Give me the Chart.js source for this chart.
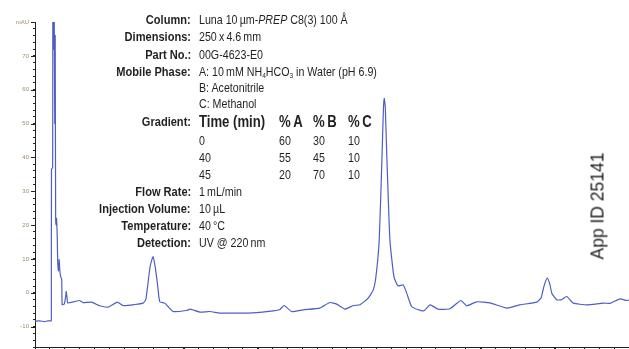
<!DOCTYPE html>
<html><head><meta charset="utf-8">
<script src="https://cdn.jsdelivr.net/npm/chart.js@4.4.1/dist/chart.umd.min.js"></script>
<style>
html,body{margin:0;padding:0;background:#fff;overflow:hidden;width:629px;height:349px}
#wrap{position:relative;width:629px;height:372px}
#c{position:absolute;left:0;top:0}
.t{position:absolute;font-family:"Liberation Sans",Arial,Helvetica,sans-serif;font-size:13px;color:#231f20;line-height:14px;white-space:nowrap;transform:scaleX(0.82);transform-origin:left center}
.lab{right:438px;font-weight:bold;font-size:13.5px;transform-origin:right center}
.val{left:199px}
.hd{font-weight:bold;font-size:16px;line-height:16px}
sub{font-size:8px;vertical-align:-2px;line-height:0}
#app{position:absolute;left:598px;top:206px;transform:translate(-50%,-50%) rotate(-90deg);font-family:"Liberation Sans",Arial,sans-serif;font-size:17.5px;color:#231f20;white-space:nowrap}
</style></head>
<body>
<div id="wrap">
<canvas id="c" width="629" height="372"></canvas>
<div class="t lab" style="top:13px">Column:</div><div class="t val" style="top:13px">Luna 10&#8201;µm-<i>PREP</i> C8(3) 100 Å</div>
<div class="t lab" style="top:30px">Dimensions:</div><div class="t val" style="top:30px">250&#8201;x&#8201;4.6&#8201;mm</div>
<div class="t lab" style="top:48px">Part No.:</div><div class="t val" style="top:48px">00G-4623-E0</div>
<div class="t lab" style="top:65px">Mobile Phase:</div><div class="t val" style="top:65px">A: 10&#8201;mM NH<sub>4</sub>HCO<sub>3</sub> in Water (pH 6.9)</div>
<div class="t val" style="top:81px">B: Acetonitrile</div>
<div class="t val" style="top:97px">C: Methanol</div>
<div class="t lab" style="top:115px">Gradient:</div>
<div class="t hd" style="top:114px;left:199px">Time (min)</div>
<div class="t hd" style="top:114px;left:279px">%&#8201;A</div>
<div class="t hd" style="top:114px;left:313px">%&#8201;B</div>
<div class="t hd" style="top:114px;left:348px">%&#8201;C</div>
<div id="grad"></div>
<div class="t lab" style="top:185px">Flow Rate:</div><div class="t val" style="top:185px">1&#8201;mL/min</div>
<div class="t lab" style="top:202px">Injection Volume:</div><div class="t val" style="top:202px">10&#8201;µL</div>
<div class="t lab" style="top:219px">Temperature:</div><div class="t val" style="top:219px">40&#8201;°C</div>
<div class="t lab" style="top:236px">Detection:</div><div class="t val" style="top:236px">UV @ 220&#8201;nm</div>
<div id="app">App ID 25141</div>
</div>
<script>
// Gradient table
const gradTime = ['0', '40', '45'];
const gradA = ['60', '55', '20'];
const gradB = ['30', '45', '70'];
const gradC = ['10', '10', '10'];

// Chromatogram trace: retention time (min) and absorbance (mAU)
const timeMin = [0, 0.32, 0.65, 0.86, 1.09, 1.10, 1.11, 1.19, 1.20, 1.24, 1.28, 1.33, 1.36, 1.39,
  1.42, 1.45, 1.50, 1.53, 1.58, 1.63, 1.68, 1.75, 1.80, 1.83, 1.97, 2.07, 2.10, 2.16, 2.20,
  2.68, 3.01, 3.23, 3.80, 4.36, 4.92, 5.55, 5.93, 6.72, 7.28, 7.46, 7.61, 7.76, 7.95, 8.10,
  8.27, 8.40, 8.74, 9.30, 10.20, 10.47, 11.10, 11.77, 12.45, 13.57, 14.69, 16.04, 16.49,
  16.78, 17.28, 18.06, 19.18, 19.86, 20.31, 20.87, 21.43, 21.88, 22.44, 22.78, 22.96, 23.18,
  23.36, 23.46, 23.52, 23.59, 23.70, 23.90, 24.17, 24.44, 24.80, 25.03, 25.36, 25.81, 26.19,
  26.60, 27.14, 27.94, 28.67, 29.07, 29.74, 30.64, 31.77, 32.66, 33.79, 34.08, 34.28, 34.50,
  34.68, 34.80, 35.13, 35.42, 35.81, 36.25, 37.16, 38.27, 38.72, 39.39, 39.84, 40.0];
const absorbance = [-8.4, -8.3, -8.5, -8.3, -8.3, -8.2, 36.5, 37, 95, 72, 95, 50, 76, 22,
  20, 22, 16, 9, 6.5, 9.8, 6, 4.5, 4.0, -3.5, -3.3, -1, 0.4, -1.5, -3.0,
  -2.57, -2.27, -2.86, -2.74, -3.83, -4.22, -2.74, -3.75, -3.45, -3.04, -2, 2.9, 8, 10.7, 7.5,
  1.8, -2.6, -3.04, -5.52, -5.22, -4.81, -5.69, -5.52, -5.99, -5.99, -5.9, -5.31, -4.9,
  -3.75, -5.52, -5.01, -4.51, -2.86, -3.33, -4.81, -3.75, -3.54, -1.56, 0.88, 4.81, 15.6,
  39.2, 54, 57.4, 54.6, 39.2, 15.6, 4.81, 2.06, 2.36, -0.09, -4.04, -5.01, -5.31,
  -3.54, -4.81, -4.72, -2.27, -3.83, -2.65, -2.95, -4.51, -3.54, -2.74, -1.47, 2.06, 4.34,
  2.36, -0.09, -2.06, -2.06, -1.09, -3.04, -3.54, -3.04, -3.1, -1.77, -2.27, -2.06];

// Axis ticks
const yMajorTicks = [-10, 0, 10, 20, 30, 40, 50, 60, 70, 80];
const yMinorStep = 2;
const xMajorTicks = [0, 5, 10, 15, 20, 25, 30, 35, 40];
const xMinorStep = 1;
const yTopLabel = 'mAU';

// gradient table rows
const gradRowTops = [134, 151, 168];
const gw = document.getElementById('grad');
gradTime.forEach((t, i) => {
  [[t, 199], [gradA[i], 279], [gradB[i], 313], [gradC[i], 348]].forEach(([txt, left]) => {
    const d = document.createElement('div');
    d.className = 't';
    d.style.top = gradRowTops[i] + 'px';
    d.style.left = left + 'px';
    d.textContent = txt;
    gw.appendChild(d);
  });
});

const axisColor = '#222';
const labelColor = '#a08a6a';

const majorTickPlugin = {
  id: 'majorTicks',
  afterDraw(chart) {
    const ctx = chart.ctx, ys = chart.scales.y, xs = chart.scales.x;
    const a = chart.chartArea;
    ctx.save();
    ctx.strokeStyle = axisColor;
    ctx.lineWidth = 1;
    ctx.beginPath();
    yMajorTicks.forEach(v => {
      const p = Math.round(ys.getPixelForValue(v)) + 0.5;
      ctx.moveTo(a.left - 4, p); ctx.lineTo(a.left, p);
    });
    xMajorTicks.forEach(v => {
      const p = Math.round(xs.getPixelForValue(v)) + 0.5;
      ctx.moveTo(p, a.bottom); ctx.lineTo(p, a.bottom + 4);
    });
    ctx.stroke();
    ctx.restore();
  }
};

function range(min, max, step) {
  const out = [];
  for (let v = min; v <= max + 1e-9; v += step) out.push({value: Math.round(v * 1000) / 1000});
  return out;
}

new Chart(document.getElementById('c'), {
  type: 'line',
  data: {
    datasets: [{
      data: timeMin.map((t, i) => ({x: t, y: absorbance[i]})),
      borderColor: '#4c5ec6',
      borderWidth: 1.2,
      pointRadius: 0,
      tension: 0.15,
      fill: false
    }]
  },
  options: {
    responsive: false,
    animation: false,
    devicePixelRatio: 1,
    layout: {padding: {top: 22, right: 0, left: 0, bottom: 0}},
    plugins: {legend: {display: false}, tooltip: {enabled: false}},
    scales: {
      x: {
        type: 'linear', min: 0, max: 40,
        afterBuildTicks: s => { s.ticks = range(0, 40, xMinorStep); },
        afterFit: s => { s.height = 25; s.paddingRight = 0; s.paddingLeft = 0; },
        grid: {drawOnChartArea: false, drawTicks: true, tickLength: 2, color: axisColor},
        border: {display: true, color: axisColor, width: 1},
        ticks: {
          autoSkip: false, maxRotation: 0, padding: 4,
          color: labelColor, font: {size: 7, family: 'Liberation Sans'},
          callback: v => (xMajorTicks.includes(v) ? String(v) : '')
        }
      },
      y: {
        min: -16, max: 80,
        afterBuildTicks: s => { s.ticks = range(-16, 80, yMinorStep); },
        afterFit: s => { s.width = 35; },
        grid: {drawOnChartArea: false, drawTicks: true, tickLength: 2, color: axisColor},
        border: {display: true, color: axisColor, width: 1},
        ticks: {
          autoSkip: false, padding: 4,
          color: labelColor, font: {size: 6, family: 'Liberation Sans'},
          callback: v => (v === 80 ? yTopLabel : (yMajorTicks.includes(v) ? String(v) : ''))
        }
      }
    }
  },
  plugins: [majorTickPlugin]
});
</script>
</body></html>
